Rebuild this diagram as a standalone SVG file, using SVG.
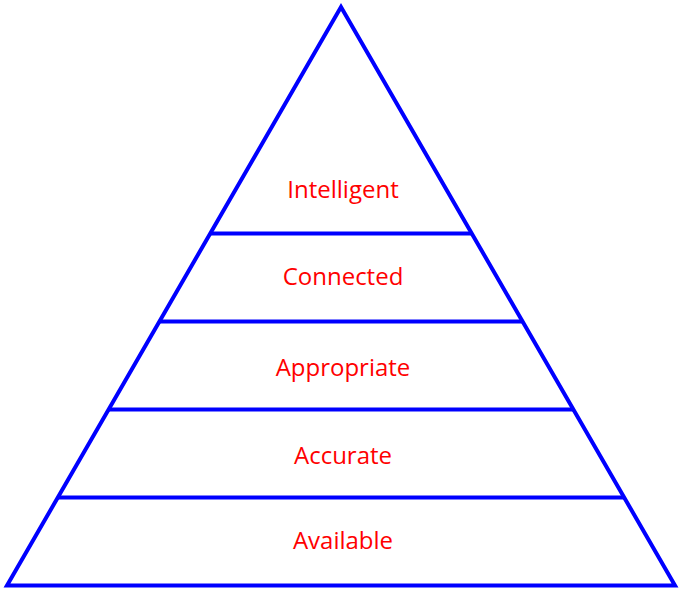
<svg xmlns="http://www.w3.org/2000/svg" width="681" height="600" viewBox="0 0 681 600">
<style>
.ln{stroke:#0000ff;stroke-width:4;fill:none;stroke-linejoin:miter}
.t{font-family:"Open Sans","Liberation Sans",sans-serif;font-size:24px;fill:#ff0000;text-anchor:middle}
</style>
<rect width="681" height="600" fill="#ffffff"/>
<g id="pyramid">
<polygon class="ln" points="341,7 7,585.5 675,585.5"/>
</g>
<g id="connectors">
<line class="ln" x1="210.5" y1="233.5" x2="471.5" y2="233.5"/>
<line class="ln" x1="159.5" y1="321.5" x2="522.5" y2="321.5"/>
<line class="ln" x1="109" y1="409.5" x2="573" y2="409.5"/>
<line class="ln" x1="58" y1="497.5" x2="624" y2="497.5"/>
</g>
<g id="intelligent"><text class="t" x="343" y="198">Intelligent</text></g>
<g id="connected"><text class="t" x="343" y="285">Connected</text></g>
<g id="appropriate"><text class="t" x="343" y="376">Appropriate</text></g>
<g id="accurate"><text class="t" x="343" y="464">Accurate</text></g>
<g id="available"><text class="t" x="343" y="549">Available</text></g>
</svg>
